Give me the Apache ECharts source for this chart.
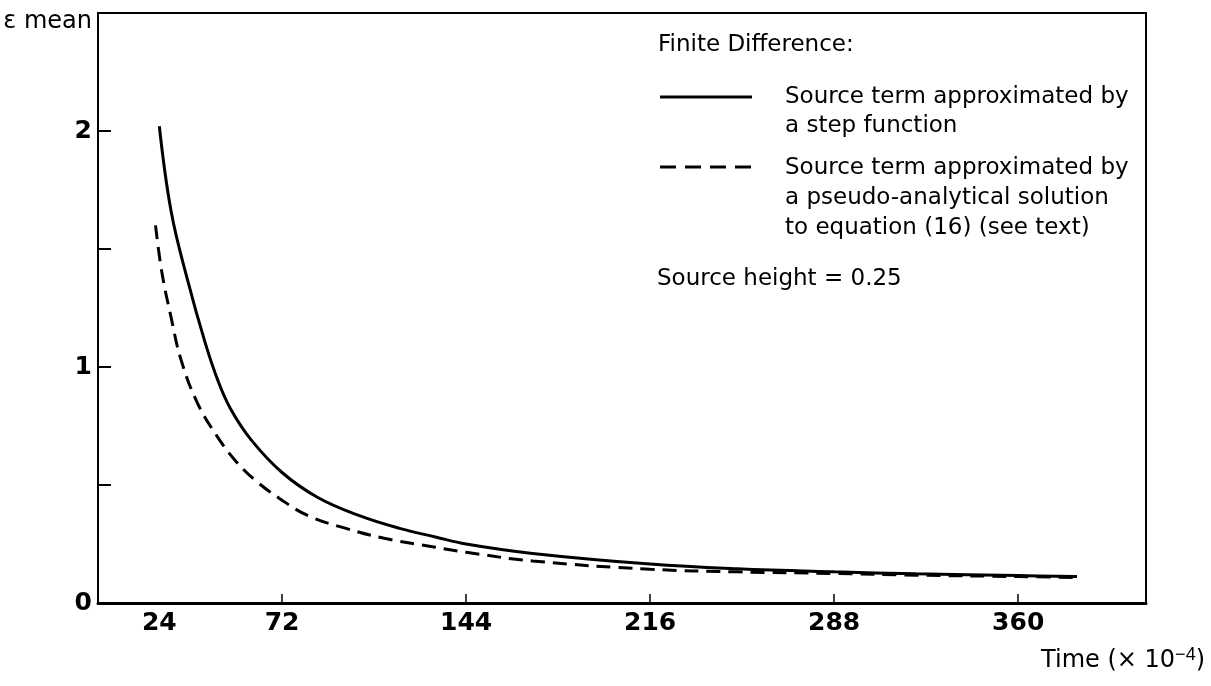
<!DOCTYPE html>
<html>
<head>
<meta charset="utf-8">
<script src="https://cdn.jsdelivr.net/npm/echarts@6/dist/echarts.min.js"></script>
<style>
  html, body { margin: 0; padding: 0; background: #fff; }
  #chart { width: 1211px; height: 686px; }
</style>
</head>
<body>
<div id="chart"></div>
<script>
// time in units of 1e-4
const stepTime = [24, 28.6, 35, 42, 47, 52, 60, 72, 86, 102, 118, 132, 144, 170, 216, 250, 288, 320, 360, 383];
const stepMean = [2.02, 1.66, 1.37, 1.10, 0.94, 0.82, 0.69, 0.553, 0.447, 0.371, 0.316, 0.28, 0.25, 0.21, 0.165, 0.145, 0.132, 0.124, 0.116, 0.112];

const pseudoTime = [22.5, 25, 28.6, 32.5, 39, 47, 54, 61.5, 71, 82, 97, 112, 132, 144, 170, 216, 250, 288, 320, 360, 383];
const pseudoMean = [1.60, 1.40, 1.21, 1.03, 0.845, 0.70, 0.60, 0.52, 0.443, 0.371, 0.316, 0.274, 0.236, 0.215, 0.178, 0.143, 0.132, 0.125, 0.118, 0.112, 0.108];

const xLabels = [24, 72, 144, 216, 288, 360];
const xTicks = [72, 144, 216, 288, 360];
const yLabels = [0, 1, 2];
const yTicks = [0.5, 1, 1.5, 2];

const FONT = "DejaVu Sans";
const zip = (a, b) => a.map((v, i) => [v, b[i]]);

const chart = echarts.init(document.getElementById("chart"));

chart.setOption({
  animation: false,
  backgroundColor: "#fff",
  textStyle: { fontFamily: FONT, color: "#000" },
  grid: {
    left: 98, right: 65, top: 13, bottom: 83,
    show: true, borderColor: "#000", borderWidth: 2,
  },
  xAxis: {
    type: "value",
    min: 0, max: 410,
    axisLine: { lineStyle: { color: "#000", width: 3 } },
    axisTick: { inside: true, length: 9, customValues: xTicks, lineStyle: { color: "#000", width: 1.5 } },
    axisLabel: { customValues: xLabels, margin: 8, fontSize: 25, fontWeight: "bold", color: "#000", fontFamily: FONT },
    splitLine: { show: false },
  },
  yAxis: {
    type: "value",
    min: 0, max: 2.5,
    axisLine: { lineStyle: { color: "#000", width: 1.5 } },
    axisTick: { inside: true, length: 13, customValues: yTicks, lineStyle: { color: "#000", width: 2 } },
    axisLabel: { customValues: yLabels, margin: 6, fontSize: 25, fontWeight: "bold", color: "#000", fontFamily: FONT },
    splitLine: { show: false },
  },
  series: [
    {
      name: "step",
      type: "line",
      data: zip(stepTime, stepMean),
      smooth: 0.4,
      showSymbol: false,
      lineStyle: { color: "#000", width: 3 },
    },
    {
      name: "pseudo",
      type: "line",
      data: zip(pseudoTime, pseudoMean),
      smooth: 0.4,
      showSymbol: false,
      lineStyle: { color: "#000", width: 3, type: [14, 8] },
    },
  ],
  graphic: [
    { type: "text", right: 1211 - 92, top: 10, style: { text: "\u03b5 mean", font: "24px " + FONT, fill: "#000" } },
    {
      type: "text", right: 6, top: 646,
      style: {
        text: "Time (\u00d7 10{sup|\u22124})",
        font: "24px " + FONT, fill: "#000",
        rich: { sup: { fontSize: 18, verticalAlign: "top", padding: [0, 0, 12, 0] } },
      },
    },
    { type: "text", left: 658, top: 34, style: { text: "Finite Difference:", font: "23px " + FONT, fill: "#000" } },
    { type: "line", shape: { x1: 660, y1: 97, x2: 752, y2: 97 }, style: { stroke: "#000", lineWidth: 3 } },
    { type: "text", left: 785, top: 83, style: { text: "Source term approximated by\na step function", font: "23px " + FONT, fill: "#000", lineHeight: 29 } },
    { type: "line", shape: { x1: 660, y1: 167, x2: 752, y2: 167 }, style: { stroke: "#000", lineWidth: 3, lineDash: [16, 9] } },
    { type: "text", left: 785, top: 153, style: { text: "Source term approximated by\na pseudo-analytical solution\nto equation (16) (see text)", font: "23px " + FONT, fill: "#000", lineHeight: 30 } },
    { type: "text", left: 657, top: 268, style: { text: "Source height = 0.25", font: "23px " + FONT, fill: "#000" } },
  ],
});
</script>
</body>
</html>
